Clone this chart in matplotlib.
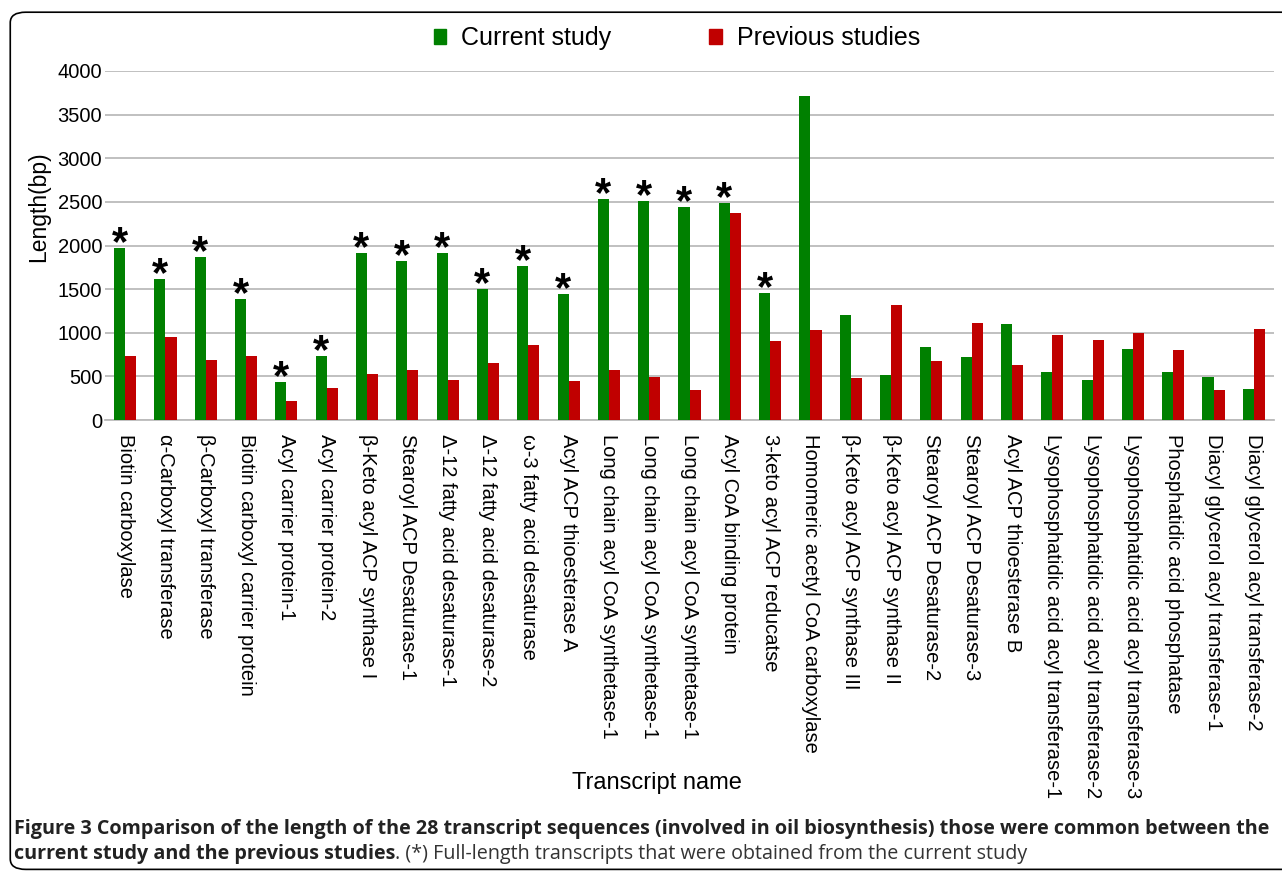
import matplotlib
matplotlib.use('Agg')
import matplotlib.pyplot as plt
import numpy as np
from matplotlib.patches import Patch, FancyBboxPatch

# transcript names and lengths (bp)
transcripts = [
    'Biotin carboxylase', 'α-Carboxyl transferase', 'β-Carboxyl transferase',
    'Biotin carboxyl carrier protein', 'Acyl carrier protein-1', 'Acyl carrier protein-2',
    'β-Keto acyl ACP synthase I', 'Stearoyl ACP Desaturase-1', 'Δ-12 fatty acid desaturase-1',
    'Δ-12 fatty acid desaturase-2', 'ω-3 fatty acid desaturase', 'Acyl ACP thioesterase A',
    'Long chain acyl CoA synthetase-1', 'Long chain acyl CoA synthetase-1',
    'Long chain acyl CoA synthetase-1', 'Acyl CoA binding protein', '3-keto acyl ACP reducatse',
    'Homomeric acetyl CoA carboxylase', 'β-Keto acyl ACP synthase III', 'β-Keto acyl ACP synthase II',
    'Stearoyl ACP Desaturase-2', 'Stearoyl ACP Desaturase-3', 'Acyl ACP thioesterase B',
    'Lysophosphatidic acid acyl transferase-1', 'Lysophosphatidic acid acyl transferase-2',
    'Lysophosphatidic acid acyl transferase-3', 'Phosphatidic acid phosphatase',
    'Diacyl glycerol acyl transferase-1', 'Diacyl glycerol acyl transferase-2',
]
current_study = [1970, 1612, 1868, 1387, 432, 733, 1910, 1822, 1910, 1498, 1765, 1444,
                 2533, 2510, 2445, 2491, 1456, 3710, 1200, 512, 833, 726, 1100,
                 546, 458, 814, 546, 497, 355]
previous_studies = [733, 947, 688, 733, 222, 367, 523, 569, 455, 657, 856, 443,
                    577, 497, 344, 2369, 902, 1032, 478, 1314, 680, 1112, 634,
                    970, 913, 1001, 802, 344, 1047]
full_length = [True] * 17 + [False] * 12

green = '#008000'
red = '#C00000'

plt.rcParams['font.family'] = ['Liberation Sans', 'DejaVu Sans']

fig = plt.figure(figsize=(12.82, 8.72), dpi=100)
ax = fig.add_axes([0.0819, 0.5183, 0.9119, 0.4003])

x = np.arange(len(transcripts))
w = 0.275
ax.bar(x - w / 2, current_study, width=w, color=green, zorder=3)
ax.bar(x + w / 2, previous_studies, width=w, color=red, zorder=3)

for xi, v, star in zip(x, current_study, full_length):
    if star:
        ax.annotate('*', xy=(xi - w / 2, v), xytext=(0, -5), textcoords='offset points',
                    ha='center', va='baseline', fontsize=30, fontweight='bold', color='black')

ax.set_xlim(-0.5, len(transcripts) - 0.5)
ax.set_ylim(0, 4000)
ax.set_yticks(np.arange(0, 4001, 500))
ax.yaxis.grid(True, color='#bbbbbb', linewidth=1.3, zorder=0)
ax.set_axisbelow(True)
for s in ['top', 'right', 'left']:
    ax.spines[s].set_visible(False)
ax.spines['bottom'].set_color('#bbbbbb')
ax.spines['bottom'].set_linewidth(1.3)
ax.tick_params(axis='both', length=0, labelsize=14.5)
ax.tick_params(axis='y', pad=2)
ax.set_xticks(x)
ax.set_xticklabels(transcripts, rotation=270, ha='center', va='top')
ax.tick_params(axis='x', pad=10)

ax.set_ylabel('Length(bp)', fontsize=16.5)
ax.yaxis.set_label_coords(-0.047, 0.61)
fig.text(0.5125, 0.102, 'Transcript name', ha='center', va='center', fontsize=17)

handles = [Patch(color=green), Patch(color=red)]
fig.legend(handles, ['Current study', 'Previous studies'], loc='center',
           bbox_to_anchor=(0.528, 0.956), ncol=2, frameon=False, fontsize=18,
           handlelength=0.5, handleheight=0.5, handletextpad=0.6, columnspacing=3.9)

# rounded frame
frame = FancyBboxPatch((0.008, 0.003), 1.05, 0.983, boxstyle='round,pad=0,rounding_size=0.012',
                       transform=fig.transFigure, fill=False, edgecolor='black', linewidth=1.2)
fig.patches.append(frame)

cap_font = ['Open Sans', 'DejaVu Sans']
line1 = fig.text(0.011, 0.049, 'Figure 3 Comparison of the length of the 28 transcript sequences '
                 '(involved in oil biosynthesis) those were common between the', fontsize=14,
                 fontweight='bold', family=cap_font, ha='left', va='center', color='#222222')
fig.canvas.draw()
# fit the caption width to the frame
wpx = line1.get_window_extent().width
cap_size = 14 * 1264 / wpx
line1.set_fontsize(cap_size)
t1 = fig.text(0.011, 0.021, 'current study and the previous studies', fontsize=cap_size,
              fontweight='bold', family=cap_font, ha='left', va='center', color='#222222')
fig.canvas.draw()
bb = t1.get_window_extent().transformed(fig.transFigure.inverted())
fig.text(bb.x1, 0.021, '. (*) Full-length transcripts that were obtained from the current study',
         fontsize=cap_size, family=cap_font, ha='left', va='center', color='#333333')

fig.savefig('out.png', dpi=100)
